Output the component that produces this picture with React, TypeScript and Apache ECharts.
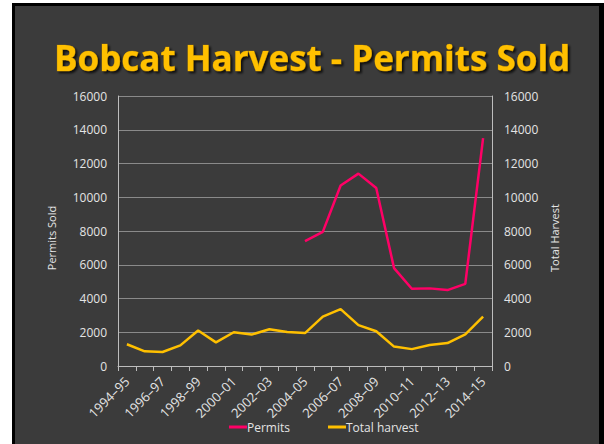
import React, { useEffect, useRef } from "react";
import * as echarts from "echarts";

const categories = [
  "1994–95", "1995–96", "1996–97", "1997–98", "1998–99", "1999–00", "2000–01",
  "2001–02", "2002–03", "2003–04", "2004–05", "2005–06", "2006–07", "2007–08",
  "2008–09", "2009–10", "2010–11", "2011–12", "2012–13", "2013–14", "2014–15",
];

const permits: (number | null)[] = [
  null, null, null, null, null, null, null, null, null, null,
  7400, 7950, 10700, 11400, 10550, 5800, 4580, 4600, 4500, 4870, 13500,
];

const totalHarvest = [
  1290, 870, 830, 1220, 2100, 1400, 2000, 1860, 2180, 2020, 1950,
  2930, 3370, 2420, 2060, 1150, 1000, 1240, 1360, 1880, 2930,
];

const yTicks = { min: 0, max: 16000, interval: 2000 };

export default function App() {
  const ref = useRef<HTMLDivElement>(null);

  useEffect(() => {
    if (!ref.current) return;
    const chart = echarts.init(ref.current, null, { renderer: "svg" });
    const font = "'Open Sans', sans-serif";
    const labelColor = "#e4e4e4";
    const plain = (v: number) => String(v);
    chart.setOption({
      animation: false,
      backgroundColor: "transparent",
      title: {
        text: "Bobcat Harvest - Permits Sold",
        left: 49,
        top: 35,
        textStyle: {
          fontFamily: "'Open Sans', sans-serif",
          fontWeight: "bold",
          fontSize: 35,
          color: "#ffc000",
          textBorderColor: "#9c7400",
          textBorderWidth: 0.6,
          textShadowColor: "rgba(0,0,0,0.75)",
          textShadowOffsetX: 2,
          textShadowOffsetY: 2,
          textShadowBlur: 2,
        },
      },
      legend: {
        left: 224,
        top: 416,
        itemWidth: 18,
        itemHeight: 3,
        itemGap: 38,
        icon: "rect",
        textStyle: { color: labelColor, fontFamily: font, fontSize: 12, padding: [0, 0, 0, -5] },
        data: ["Permits", "Total harvest"],
      },
      grid: { left: 118, right: 112, top: 96, bottom: 78, containLabel: false },
      xAxis: {
        type: "category",
        data: categories,
        boundaryGap: true,
        axisLine: { lineStyle: { color: "#bdbdbd", width: 1 } },
        axisTick: { show: true, interval: 0, length: 5, lineStyle: { color: "#bdbdbd" } },
        axisLabel: {
          interval: 1,
          rotate: 45,
          color: labelColor,
          fontFamily: font,
          fontSize: 13,
          margin: 13,
        },
        splitLine: { show: false },
      },
      yAxis: [
        {
          type: "value",
          ...yTicks,
          name: "Permits Sold",
          nameLocation: "middle",
          nameGap: 61,
          nameRotate: 90,
          nameTextStyle: { color: labelColor, fontFamily: font, fontSize: 11, padding: [0, 14, 0, 0] },
          axisLine: { show: true, lineStyle: { color: "#bdbdbd" } },
          axisTick: { show: false },
          axisLabel: { color: labelColor, fontFamily: font, fontSize: 12, margin: 11, formatter: plain },
          splitLine: { lineStyle: { color: "#8a8a8a", width: 1 } },
        },
        {
          type: "value",
          ...yTicks,
          name: "Total Harvest",
          nameLocation: "middle",
          nameGap: 38,
          nameRotate: 90,
          nameTextStyle: { color: labelColor, fontFamily: font, fontSize: 11, padding: [0, 14, 0, 0] },
          axisLine: { show: true, lineStyle: { color: "#bdbdbd" } },
          axisTick: { show: false },
          axisLabel: { color: labelColor, fontFamily: font, fontSize: 12, margin: 12, formatter: plain },
          splitLine: { show: false },
        },
      ],
      series: [
        {
          name: "Permits",
          type: "line",
          yAxisIndex: 0,
          data: permits,
          showSymbol: false,
          symbol: "none",
          connectNulls: false,
          lineStyle: { color: "#ff0066", width: 2.5 },
          itemStyle: { color: "#ff0066" },
        },
        {
          name: "Total harvest",
          type: "line",
          yAxisIndex: 1,
          data: totalHarvest,
          showSymbol: false,
          symbol: "none",
          lineStyle: { color: "#ffc000", width: 2.5 },
          itemStyle: { color: "#ffc000" },
        },
      ],
    });
    return () => chart.dispose();
  }, []);

  return (
    <div style={{ position: "fixed", left: 0, top: 0, width: 604, height: 444, background: "#ffffff" }}>
      <div style={{ position: "absolute", left: 12, top: 3, width: 592, height: 441, background: "#000000" }} />
      <div style={{ position: "absolute", left: 15, top: 6, width: 584, height: 438, background: "#3b3b3b" }} />
      <div ref={ref} style={{ position: "absolute", left: 0, top: 0, width: 604, height: 444 }} />
    </div>
  );
}
